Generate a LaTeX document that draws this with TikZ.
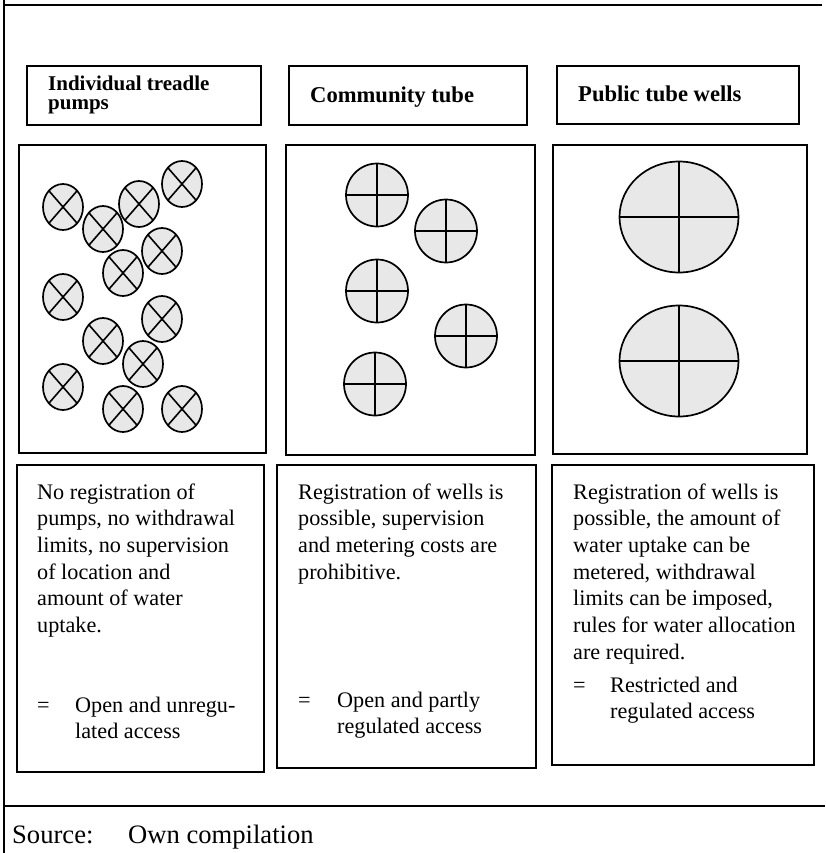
\documentclass[tikz,border=0pt]{standalone}
\usepackage{fontspec}
\setmainfont{Liberation Serif}
\usetikzlibrary{shapes.geometric}
\definecolor{wellgray}{HTML}{E8E8E8}
\tikzset{
  frameline/.style={line width=2.2pt},
  box/.style={draw, line width=1.6pt, inner sep=0pt},
  pump/.style={ellipse, draw, line width=1.7pt, fill=wellgray, inner sep=0pt,
    minimum width=40pt, minimum height=46pt,
    path picture={\draw[line width=1.6pt] (path picture bounding box.north west) -- (path picture bounding box.south east)
      (path picture bounding box.north east) -- (path picture bounding box.south west);}},
  well/.style={ellipse, draw, line width=1.7pt, fill=wellgray, inner sep=0pt,
    path picture={\draw[line width=1.6pt] (path picture bounding box.north) -- (path picture bounding box.south)
      (path picture bounding box.west) -- (path picture bounding box.east);}},
  cwell/.style={well, minimum width=62pt, minimum height=63pt},
  pwell/.style={well, minimum width=119pt, minimum height=111pt},
  body/.style={anchor=base west, inner sep=0pt, align=left, font=\fontsize{22.2}{26.7}\selectfont},
  titletext/.style={anchor=base west, inner sep=0pt, align=left, font=\bfseries\fontsize{22.6}{19}\selectfont},
  srctext/.style={anchor=base west, inner sep=0pt, font=\fontsize{26.6}{30}\selectfont}
}
\begin{document}
\begin{tikzpicture}[x=1pt,y=-1pt]
\useasboundingbox (0,0) rectangle (825,853);
% frame
\coordinate (ftl) at (4,5);
\coordinate (ftop) at (4,0);
\coordinate (fbot) at (4,853);
\coordinate (ftr) at (822,5);
\coordinate (dl) at (4,806);
\coordinate (dr) at (825,806);
\draw[frameline] (ftop) -- (fbot);
\draw[frameline] (ftl) -- (ftr);
\draw[frameline] (dl) -- (dr);

% title boxes
\node[box, minimum width=234pt, minimum height=59pt] (h1) at (144,95.5) {};
\node[box, minimum width=238pt, minimum height=59pt] (h2) at (408,95.5) {};
\node[box, minimum width=242pt, minimum height=58pt] (h3) at (678,95) {};
% multi-line nodes: base anchor = baseline of last line
\node[titletext, font=\bfseries\fontsize{21}{19}\selectfont] (h1t) at (48,109.5) {Individual treadle\\pumps};
\node[titletext] (h2t) at (310,103) {Community tube};
\node[titletext] (h3t) at (578,102) {Public tube wells};

% picture boxes
\node[box, minimum width=247pt, minimum height=308pt] (p1) at (142.5,299) {};
\node[box, minimum width=249pt, minimum height=310pt] (p2) at (410.5,300) {};
\node[box, minimum width=254pt, minimum height=309pt] (p3) at (680,299.5) {};

% individual pumps
\node[pump] (a1) at (63,207) {};
\node[pump] (a2) at (103,229) {};
\node[pump] (a3) at (139,204) {};
\node[pump] (a4) at (182,184) {};
\node[pump] (a5) at (162,251) {};
\node[pump] (a6) at (123,273) {};
\node[pump] (a7) at (63,297) {};
\node[pump] (a8) at (162,319) {};
\node[pump] (a9) at (103,341) {};
\node[pump] (a10) at (143,364) {};
\node[pump] (a11) at (63,387) {};
\node[pump] (a12) at (123,409) {};
\node[pump] (a13) at (182,409) {};

% community tubes
\node[cwell] (c1) at (377,195) {};
\node[cwell] (c2) at (446,231) {};
\node[cwell] (c3) at (377,291) {};
\node[cwell] (c4) at (466,336) {};
\node[cwell] (c5) at (375,384) {};

% public tube wells
\node[pwell] (w1) at (679,217) {};
\node[pwell] (w2) at (679,361) {};

% text boxes
\node[box, minimum width=247pt, minimum height=307pt] (t1) at (140.5,618.5) {};
\node[box, minimum width=259pt, minimum height=303pt] (t2) at (406.5,616.5) {};
\node[box, minimum width=262pt, minimum height=300pt] (t3) at (683,615) {};

\node[body] (t1a) at (37,632.5) {No registration of\\pumps, no withdrawal\\limits, no supervision\\of location and\\amount of water\\uptake.};
\node[body] (t1e) at (37,712) {=};
\node[body] (t1b) at (75,738.7) {Open and unregu-\\lated access};

\node[body] (t2a) at (298,579.1) {Registration of wells is\\possible, supervision\\and metering costs are\\prohibitive.};
\node[body] (t2e) at (298,707) {=};
\node[body] (t2b) at (337,733.7) {Open and partly\\regulated access};

\node[body] (t3a) at (573,659.2) {Registration of wells is\\possible, the amount of\\water uptake can be\\metered, withdrawal\\limits can be imposed,\\rules for water allocation\\are required.};
\node[body] (t3e) at (573,692) {=};
\node[body] (t3b) at (610,718.7) {Restricted and\\regulated access};

% source
\node[srctext] (s1) at (12,843) {Source:};
\node[srctext] (s2) at (128,843) {Own compilation};
\end{tikzpicture}
\end{document}
